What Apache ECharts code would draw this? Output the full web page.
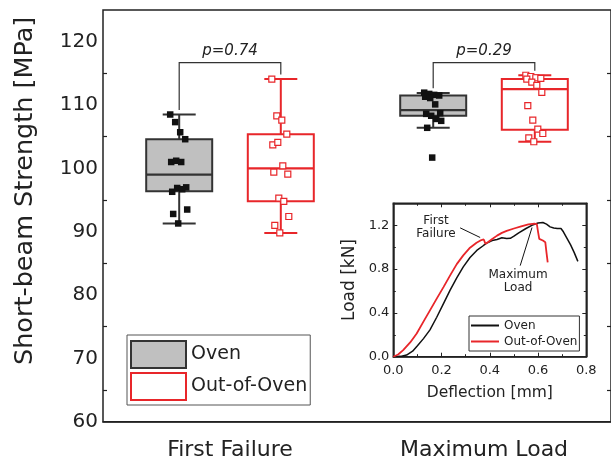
<!DOCTYPE html>
<html>
<head>
<meta charset="utf-8">
<script src="https://cdn.jsdelivr.net/npm/echarts@6/dist/echarts.min.js"></script>
<style>html,body{margin:0;padding:0;background:#fff}#c{width:611px;height:464px}</style>
</head>
<body>
<div id="c"></div>
<script>
// ---- data ----
const categories = ['First Failure', 'Maximum Load'];
const seriesNames = ['Oven', 'Out-of-Oven'];
// individual specimens (MPa)
const ovenFirstFailure = [108.5, 107.3, 105.7, 104.6, 101.0, 101.2, 101.0, 97.0, 96.3, 96.9, 96.7, 93.5, 92.8, 91.3];
const outFirstFailure  = [114.1, 108.3, 107.6, 105.4, 103.7, 104.1, 100.4, 99.1, 99.4, 95.3, 94.8, 92.4, 91.0, 89.8];
const ovenMaxLoad      = [111.95, 111.75, 111.6, 111.5, 111.3, 111.1, 110.1, 108.7, 108.6, 108.3, 107.8, 107.5, 106.4, 101.7];
const outMaxLoad       = [114.7, 114.5, 114.3, 114.2, 114.1, 113.6, 113.1, 112.0, 109.9, 107.6, 106.2, 105.5, 104.8, 104.2];
// box statistics [whisker low, Q1, median, Q3, whisker high]
const ovenBoxes = [[91.3, 96.4, 99.0, 104.6, 108.5], [106.4, 108.3, 109.2, 111.5, 111.9]];
const outBoxes  = [[89.8, 94.8, 100.0, 105.4, 114.1], [104.2, 106.1, 112.5, 114.1, 114.7]];
const pValues = ['p=0.74', 'p=0.29'];
const bracketLevel = 116.7;
// inset load-deflection curves [deflection mm, load kN]
const ovenCurve = [[0,0],[0.03,0.003],[0.055,0.015],[0.08,0.05],[0.1,0.1],[0.125,0.165],[0.152,0.245],[0.18,0.36],[0.208,0.484],[0.235,0.605],[0.263,0.72],[0.29,0.82],[0.318,0.905],[0.346,0.97],[0.374,1.015],[0.39,1.04],[0.41,1.06],[0.43,1.07],[0.45,1.085],[0.47,1.078],[0.485,1.08],[0.5,1.1],[0.52,1.13],[0.55,1.17],[0.58,1.205],[0.6,1.22],[0.62,1.225],[0.635,1.21],[0.65,1.185],[0.665,1.175],[0.68,1.17],[0.695,1.17],[0.705,1.14],[0.72,1.08],[0.735,1.02],[0.75,0.95],[0.765,0.87]];
const outCurve = [[0,0],[0.02,0.02],[0.041,0.06],[0.07,0.13],[0.097,0.212],[0.125,0.32],[0.152,0.423],[0.18,0.53],[0.208,0.635],[0.235,0.74],[0.263,0.845],[0.29,0.925],[0.318,0.995],[0.345,1.04],[0.365,1.065],[0.375,1.07],[0.382,1.03],[0.392,1.045],[0.41,1.075],[0.43,1.105],[0.45,1.13],[0.47,1.148],[0.5,1.17],[0.53,1.19],[0.56,1.208],[0.585,1.215],[0.595,1.21],[0.6,1.14],[0.605,1.075],[0.62,1.06],[0.63,1.045],[0.635,0.95],[0.64,0.86]];
// annotation anchors in data units
const firstFailureText = [0.177, 1.176];
const firstFailureArrow = [[0.277, 1.176], [0.36, 1.088]];
const maxLoadText = [0.517, 0.686];
const maxLoadArrow = [[0.526, 0.831], [0.575, 1.179]];

// ---- styling ----
const FONT = 'DejaVu Sans';
const RED = '#e8262a';
const DARK = '#222';
const GRAY = '#c0c0c0';

// slot layout on the hidden 10-slot axis
const slotOf = (g, s) => g * 5 + (s === 0 ? 1 : 3);
const jitter = i => ((i * 5) % 19) - 9;

const ovenPts = [ovenFirstFailure, ovenMaxLoad];
const outPts = [outFirstFailure, outMaxLoad];
function pts(arr, s) {
  const out = [];
  arr.forEach((vals, g) => vals.forEach((v, i) => out.push({ value: [slotOf(g, s), v], symbolOffset: [jitter(i), 0] })));
  return out;
}
function boxes(arr, s) { return arr.map((b, g) => [slotOf(g, s)].concat(b)); }

function boxRender(fill, stroke) {
  return function (params, api) {
    const slot = api.value(0);
    const y = v => api.coord([slot, v])[1];
    const x = api.coord([slot, api.value(3)])[0];
    const hw = 33, cw = 16.5;
    const mn = y(api.value(1)), q1 = y(api.value(2)), md = y(api.value(3)), q3 = y(api.value(4)), mx = y(api.value(5));
    const ls = { stroke: stroke, lineWidth: 2 };
    return { type: 'group', children: [
      { type: 'line', shape: { x1: x, y1: q3, x2: x, y2: mx }, style: ls },
      { type: 'line', shape: { x1: x, y1: q1, x2: x, y2: mn }, style: ls },
      { type: 'line', shape: { x1: x - cw, y1: mx, x2: x + cw, y2: mx }, style: ls },
      { type: 'line', shape: { x1: x - cw, y1: mn, x2: x + cw, y2: mn }, style: ls },
      { type: 'rect', shape: { x: x - hw, y: q3, width: 2 * hw, height: q1 - q3 }, style: { fill: fill, stroke: stroke, lineWidth: 2 } },
      { type: 'line', shape: { x1: x - hw, y1: md, x2: x + hw, y2: md }, style: { stroke: stroke, lineWidth: 2.2 } }
    ] };
  };
}

const bracketData = categories.map((c, g) => {
  const leftTop = Math.max(ovenBoxes[g][4], Math.max.apply(null, ovenPts[g]));
  const rightTop = Math.max(outBoxes[g][4], Math.max.apply(null, outPts[g]));
  return [slotOf(g, 0), slotOf(g, 1), leftTop, rightTop, bracketLevel];
});

const chart = echarts.init(document.getElementById('c'), null, { renderer: 'canvas' });
chart.setOption({
  animation: false,
  backgroundColor: '#fff',
  textStyle: { fontFamily: FONT },
  grid: [
    { left: 103, top: 10, width: 510, height: 411.7, show: true, borderColor: DARK, borderWidth: 1.5, backgroundColor: 'transparent' },
    { left: 393.3, top: 203.3, width: 193, height: 153.4, show: true, borderColor: DARK, borderWidth: 1.5, backgroundColor: '#fff' }
  ],
  legend: [
    {
      data: [
        { name: 'Oven', icon: 'rect', itemStyle: { color: GRAY, borderColor: '#333', borderWidth: 2 } },
        { name: 'Out-of-Oven', icon: 'rect', itemStyle: { color: '#fff', borderColor: RED, borderWidth: 2 } }
      ],
      orient: 'vertical', left: 127, top: 335, itemWidth: 55, itemHeight: 27, itemGap: 3,
      padding: [5, 3, 4, 3], borderColor: '#555', borderWidth: 1, backgroundColor: '#fff',
      textStyle: { fontFamily: FONT, fontSize: 19, color: DARK }, selectedMode: false
    },
    {
      data: [
        { name: 'Oven curve', icon: 'rect', itemStyle: { color: '#111', borderWidth: 0 } },
        { name: 'Out-of-Oven curve', icon: 'rect', itemStyle: { color: RED, borderWidth: 0 } }
      ],
      formatter: n => n.replace(' curve', ''),
      orient: 'vertical', left: 469, top: 316, itemWidth: 28, itemHeight: 2, itemGap: 1,
      padding: [2, 2, 2, 2], borderColor: '#333', borderWidth: 1, backgroundColor: '#fff',
      textStyle: { fontFamily: FONT, fontSize: 12, color: DARK, lineHeight: 15 }, selectedMode: false
    }
  ],
  xAxis: [
    { type: 'category', gridIndex: 0, data: categories, position: 'bottom',
      axisLine: { lineStyle: { color: DARK, width: 1.5 } },
      axisTick: { inside: true, alignWithLabel: true, length: 6, lineStyle: { color: DARK, width: 1.5 } },
      axisLabel: { fontFamily: FONT, fontSize: 22, color: DARK, margin: 18 },
      splitLine: { show: false } },
    { type: 'category', gridIndex: 0, show: false, data: ['0','1','2','3','4','5','6','7','8','9'] },
    { type: 'value', gridIndex: 1, min: 0, max: 0.8, interval: 0.2, position: 'bottom',
      name: 'Deflection [mm]', nameLocation: 'middle', nameGap: 28,
      nameTextStyle: { fontFamily: FONT, fontSize: 15.5, color: DARK },
      axisLine: { onZero: false, lineStyle: { color: DARK, width: 1.5 } },
      axisTick: { inside: true, length: 4, lineStyle: { color: DARK } },
      minorTick: { show: true, splitNumber: 2, length: 2.5, lineStyle: { color: DARK } },
      axisLabel: { fontFamily: FONT, fontSize: 13, color: DARK, margin: 7, formatter: v => v.toFixed(1) },
      splitLine: { show: false } },
    { type: 'value', gridIndex: 1, min: 0, max: 0.8, interval: 0.2, position: 'top',
      axisLine: { onZero: false, lineStyle: { color: DARK, width: 1.5 } },
      axisTick: { inside: true, length: 4, lineStyle: { color: DARK } },
      minorTick: { show: true, splitNumber: 2, length: 2.5, lineStyle: { color: DARK } },
      axisLabel: { show: false }, splitLine: { show: false } }
  ],
  yAxis: [
    { type: 'value', gridIndex: 0, min: 60, max: 125, interval: 10, position: 'left',
      name: 'Short-beam Strength [MPa]', nameLocation: 'middle', nameGap: 65,
      nameTextStyle: { fontFamily: FONT, fontSize: 25.5, color: DARK, padding: [0, 0, 0, 50] },
      axisLine: { lineStyle: { color: DARK, width: 1.5 } },
      axisTick: { inside: true, length: 7, lineStyle: { color: DARK, width: 1.5 } },
      minorTick: { show: true, splitNumber: 2, length: 4, lineStyle: { color: DARK, width: 1.2 } },
      axisLabel: { fontFamily: FONT, fontSize: 20, color: DARK, margin: 5, showMaxLabel: false },
      splitLine: { show: false } },
    { type: 'value', gridIndex: 0, min: 60, max: 125, interval: 10, position: 'right',
      axisLine: { lineStyle: { color: DARK, width: 1.5 } },
      axisTick: { inside: true, length: 7, lineStyle: { color: DARK, width: 1.5 } },
      minorTick: { show: true, splitNumber: 2, length: 4, lineStyle: { color: DARK, width: 1.2 } },
      axisLabel: { show: false }, splitLine: { show: false } },
    { type: 'value', gridIndex: 1, min: 0, max: 1.4, interval: 0.4, position: 'left',
      name: 'Load [kN]', nameLocation: 'middle', nameGap: 35,
      nameTextStyle: { fontFamily: FONT, fontSize: 17, color: DARK },
      axisLine: { onZero: false, lineStyle: { color: DARK, width: 1.5 } },
      axisTick: { inside: true, length: 4, lineStyle: { color: DARK } },
      minorTick: { show: true, splitNumber: 2, length: 2.5, lineStyle: { color: DARK } },
      axisLabel: { fontFamily: FONT, fontSize: 13, color: DARK, margin: 4, showMaxLabel: false, formatter: v => v.toFixed(1) },
      splitLine: { show: false } },
    { type: 'value', gridIndex: 1, min: 0, max: 1.4, interval: 0.4, position: 'right',
      axisLine: { onZero: false, lineStyle: { color: DARK, width: 1.5 } },
      axisTick: { inside: true, length: 4, lineStyle: { color: DARK } },
      minorTick: { show: true, splitNumber: 2, length: 2.5, lineStyle: { color: DARK } },
      axisLabel: { show: false }, splitLine: { show: false } }
  ],
  series: [
    { name: 'Oven', type: 'custom', xAxisIndex: 1, yAxisIndex: 0, data: boxes(ovenBoxes, 0),
      encode: { x: 0, y: [1, 2, 3, 4, 5] }, itemStyle: { color: GRAY }, renderItem: boxRender(GRAY, '#333'), z: 2 },
    { name: 'Out-of-Oven', type: 'custom', xAxisIndex: 1, yAxisIndex: 0, data: boxes(outBoxes, 1),
      encode: { x: 0, y: [1, 2, 3, 4, 5] }, itemStyle: { color: RED }, renderItem: boxRender('rgba(255,255,255,0)', RED), z: 2 },
    { name: 'Oven', type: 'scatter', xAxisIndex: 1, yAxisIndex: 0, data: pts(ovenPts, 0),
      symbol: 'rect', symbolSize: 6.5, itemStyle: { color: '#111', opacity: 1 }, z: 4 },
    { name: 'Out-of-Oven', type: 'scatter', xAxisIndex: 1, yAxisIndex: 0, data: pts(outPts, 1),
      symbol: 'rect', symbolSize: 6, itemStyle: { color: '#fff', borderColor: RED, borderWidth: 1.2, opacity: 1 }, z: 4 },
    { name: 'bracket', type: 'custom', xAxisIndex: 1, yAxisIndex: 0, data: bracketData,
      encode: { x: [0, 1], y: [2, 3, 4] }, z: 3,
      renderItem: function (params, api) {
        const lv = api.value(4);
        const l = api.coord([api.value(0), lv]);
        const r = api.coord([api.value(1), lv]);
        const lEnd = api.coord([api.value(0), api.value(2)])[1] - 4.5;
        const rEnd = api.coord([api.value(1), api.value(3)])[1] - 4.5;
        return { type: 'group', children: [
          { type: 'polyline', shape: { points: [[l[0], lEnd], [l[0], l[1]], [r[0], r[1]], [r[0], rEnd]] }, style: { stroke: '#333', lineWidth: 1.2, fill: null } },
          { type: 'text', x: (l[0] + r[0]) / 2, y: l[1] - 4,
            style: { text: pValues[params.dataIndex], fontFamily: FONT, fontStyle: 'italic', fontSize: 15, fill: DARK, align: 'center', verticalAlign: 'bottom' } }
        ] };
      } },
    { name: 'Oven curve', type: 'line', xAxisIndex: 2, yAxisIndex: 2, data: ovenCurve,
      symbol: 'none', showSymbol: false, lineStyle: { color: '#111', width: 1.5 }, itemStyle: { color: '#111' }, z: 5,
      markLine: { silent: true, symbol: ['none', 'arrow'], symbolSize: [0, 7], label: { show: false },
        lineStyle: { color: '#111', width: 1, type: 'solid' },
        data: [
          [{ coord: firstFailureArrow[0] }, { coord: firstFailureArrow[1] }],
          [{ coord: maxLoadArrow[0] }, { coord: maxLoadArrow[1] }]
        ] },
      markPoint: { silent: true, symbol: 'circle', symbolSize: 1, itemStyle: { color: 'rgba(0,0,0,0)' },
        label: { show: true, position: 'inside', fontFamily: FONT, fontSize: 12, lineHeight: 13, color: DARK },
        data: [
          { coord: firstFailureText, label: { formatter: 'First\nFailure' } },
          { coord: maxLoadText, label: { formatter: 'Maximum\nLoad' } }
        ] } },
    { name: 'Out-of-Oven curve', type: 'line', xAxisIndex: 2, yAxisIndex: 2, data: outCurve,
      symbol: 'none', showSymbol: false, lineStyle: { color: RED, width: 1.8 }, itemStyle: { color: RED }, z: 6 }
  ]
});
</script>
</body>
</html>
